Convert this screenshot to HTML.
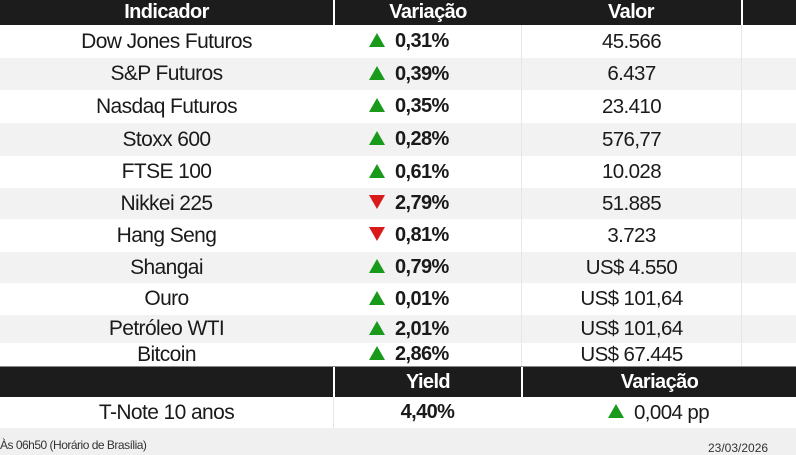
<!DOCTYPE html>
<html><head><meta charset="utf-8"><style>
*{margin:0;padding:0;box-sizing:border-box}
body{width:796px;height:448px;overflow:hidden;background:#f0f0f0;font-family:"Liberation Sans",sans-serif;position:relative;color:#1a1a1a}
.r{position:absolute;left:0;width:796px}
.hd{background:#1c1c1c;color:#fff;font-weight:bold;font-size:20px}
.c{position:absolute;top:0;height:100%;display:flex;align-items:center;justify-content:center;letter-spacing:-0.6px}
.n{left:0;width:333px;font-size:21px}
.v{left:333px;width:188px;justify-content:flex-start;padding-left:36px;font-weight:bold;font-size:20px}
.l{left:521px;width:220px;font-size:20.5px;border-left:1px solid #e6e6e6}
.x{left:741px;width:55px;border-left:1px solid #e6e6e6}
.up{width:0;height:0;border-left:8px solid transparent;border-right:8px solid transparent;border-bottom:14px solid #1a9a1a;margin-right:10px;margin-top:-3px}
.dn{width:0;height:0;border-left:8px solid transparent;border-right:8px solid transparent;border-top:14px solid #d81a1a;margin-right:10px;margin-top:-3px}
.w{background:#fff}.g{background:#f2f2f2}
</style></head><body>
<div class="r hd" style="top:0;height:25px">
<div class="c n" style="font-size:20px">Indicador</div>
<div class="c" style="left:333px;width:188px;border-left:2px solid #fff">Variação</div>
<div class="c" style="left:521px;width:220px">Valor</div>
<div class="c" style="left:741px;width:55px;border-left:2px solid #fff"></div>
</div>
<div class="r w" style="top:25px;height:33px"><div class="c n">Dow Jones Futuros</div><div class="c v"><i class="up"></i>0,31%</div><div class="c l">45.566</div><div class="c x"></div></div>
<div class="r g" style="top:58px;height:32px"><div class="c n">S&amp;P Futuros</div><div class="c v"><i class="up"></i>0,39%</div><div class="c l">6.437</div><div class="c x"></div></div>
<div class="r w" style="top:90px;height:33px"><div class="c n">Nasdaq Futuros</div><div class="c v"><i class="up"></i>0,35%</div><div class="c l">23.410</div><div class="c x"></div></div>
<div class="r g" style="top:123px;height:33px"><div class="c n">Stoxx 600</div><div class="c v"><i class="up"></i>0,28%</div><div class="c l">576,77</div><div class="c x"></div></div>
<div class="r w" style="top:156px;height:32px"><div class="c n">FTSE 100</div><div class="c v"><i class="up"></i>0,61%</div><div class="c l">10.028</div><div class="c x"></div></div>
<div class="r g" style="top:188px;height:31px"><div class="c n">Nikkei 225</div><div class="c v"><i class="dn"></i>2,79%</div><div class="c l">51.885</div><div class="c x"></div></div>
<div class="r w" style="top:219px;height:33px"><div class="c n">Hang Seng</div><div class="c v"><i class="dn"></i>0,81%</div><div class="c l">3.723</div><div class="c x"></div></div>
<div class="r g" style="top:252px;height:31px"><div class="c n">Shangai</div><div class="c v"><i class="up"></i>0,79%</div><div class="c l">US$ 4.550</div><div class="c x"></div></div>
<div class="r w" style="top:283px;height:32px"><div class="c n">Ouro</div><div class="c v"><i class="up"></i>0,01%</div><div class="c l">US$ 101,64</div><div class="c x"></div></div>
<div class="r g" style="top:315px;height:28px"><div class="c n">Petróleo WTI</div><div class="c v"><i class="up"></i>2,01%</div><div class="c l">US$ 101,64</div><div class="c x"></div></div>
<div class="r w" style="top:343px;height:23px"><div class="c n">Bitcoin</div><div class="c v"><i class="up"></i>2,86%</div><div class="c l">US$ 67.445</div><div class="c x"></div></div>
<div class="r hd" style="top:366px;height:31px;border-top:1px solid #888">
<div class="c n"></div>
<div class="c" style="left:333px;width:188px;border-left:2px solid #fff">Yield</div>
<div class="c" style="left:521px;width:275px;border-left:2px solid #fff">Variação</div>
</div>
<div class="r w" style="top:397px;height:31px"><div class="c n">T-Note 10 anos</div><div class="c" style="left:333px;width:188px;font-weight:bold;font-size:20px;border-left:1px solid #e6e6e6">4,40%</div><div class="c" style="left:521px;width:275px;font-size:20.5px"><i class="up"></i>0,004 pp</div></div>
<div style="position:absolute;left:0;top:438px;font-size:12px;color:#333;letter-spacing:-0.5px">Às 06h50 (Horário de Brasília)</div>
<div style="position:absolute;left:708px;top:441px;font-size:12px;color:#333">23/03/2026</div>
</body></html>
